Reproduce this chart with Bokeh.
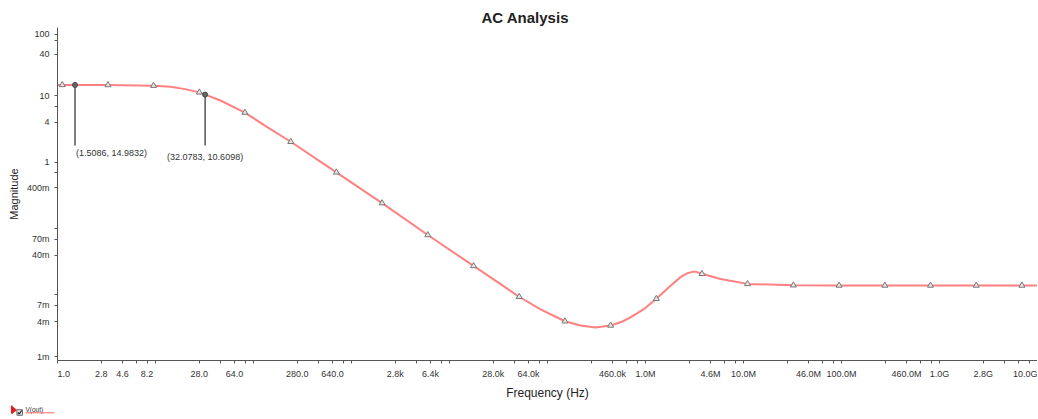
from bokeh.plotting import figure
from bokeh.models import FixedTicker, Range1d
from bokeh.layouts import column
from bokeh.embed import file_html
from bokeh.resources import INLINE
from bokeh.core.properties import value

# ---------------- data ----------------
trace_freq = [1.0, 1.5086, 3.27, 9.55, 14.3, 20.0, 28.0, 32.0783, 46.0, 81.8, 133.0,
              240.0, 701.0, 2053.0, 6010.0, 17600.0, 51400.0, 84000.0, 150600.0,
              217000.0, 309000.0, 440700.0, 574000.0, 703000.0, 960000.0, 1290000.0,
              1800000.0, 2280000.0, 2650000.0, 3000000.0, 3300000.0, 3770000.0,
              5830000.0, 11000000.0, 32300000.0, 94600000.0, 1e10]
trace_mag = [15.0, 14.9832, 14.95, 14.6, 14.0, 12.9, 11.5, 10.6098, 8.6, 5.6, 3.45,
             1.98, 0.665, 0.222, 0.0713, 0.0237, 0.0079, 0.0051, 0.0033,
             0.00284, 0.00264, 0.00284, 0.003245, 0.00378, 0.00508, 0.00735,
             0.0117, 0.0159, 0.0182, 0.0192, 0.0192, 0.0179,
             0.0149, 0.0125, 0.0119, 0.0118, 0.0118]

marker_freq = [1.117, 3.27, 9.55, 28.0, 81.8, 240.0, 701.0, 2053.0, 6010.0, 17600.0,
               51400.0, 150600.0, 440700.0, 1290000.0, 3770000.0, 11000000.0,
               32300000.0, 94600000.0, 276800000.0, 809000000.0, 2370000000.0,
               6930000000.0]
marker_mag = [15.0, 14.95, 14.6, 11.5, 5.6, 1.98, 0.665, 0.222, 0.0713, 0.0237,
              0.0079, 0.0033, 0.00284, 0.00735, 0.0179, 0.0125, 0.0119, 0.0118,
              0.0118, 0.0118, 0.0118, 0.0118]

cursor_freq = [1.5086, 32.0783]
cursor_mag = [14.9832, 10.6098]
cursor_text = ["(1.5086, 14.9832)", "(32.0783, 10.6098)"]

x_label_values = [1.0, 2.8, 4.6, 8.2, 28.0, 64.0, 280.0, 640.0, 2800.0, 6400.0, 28000.0,
                  64000.0, 460000.0, 1000000.0, 4600000.0, 10000000.0, 46000000.0,
                  100000000.0, 460000000.0, 1000000000.0, 2800000000.0, 10000000000.0]
x_label_texts = ["1.0", "2.8", "4.6", "8.2", "28.0", "64.0", "280.0", "640.0", "2.8k",
                 "6.4k", "28.0k", "64.0k", "460.0k", "1.0M", "4.6M", "10.0M", "46.0M",
                 "100.0M", "460.0M", "1.0G", "2.8G", "10.0G"]
x_mantissas = [1.0, 2.8, 4.6, 6.4, 8.2]

# y tick labels and where the reference draws them (pixel rows of the picture)
y_tick_labels = ["100", "", "40", "10", "", "4", "1", "", "400m", "", "70m", "40m",
                 "", "7m", "4m", "1m"]
y_tick_rows = [34.0, 40.0, 54.3, 96.0, 106.7, 122.7, 163.3, 173.3, 189.0, 230.0,
               241.5, 257.5, 297.0, 308.0, 325.0, 360.0]

# ---------------- pixel helpers (positions only) ----------------
def ypix(py):
    return 10 ** ((162.0 - py) / 65.4)

FONT = "Liberation Sans"
TXT = "#333333"
NB = "\u00a0"

p = figure(width=1037, height=402, x_axis_type="log", y_axis_type="log",
           x_range=Range1d(1.0, 1e10), y_range=Range1d(ypix(364), ypix(27)),
           output_backend="svg", toolbar_location=None,
           min_border_left=57, min_border_right=0, min_border_top=27,
           min_border_bottom=38, background_fill_color="white",
           border_fill_color="white")
p.outline_line_color = None
p.grid.visible = False

# title
p.title.text = "AC Analysis"
p.title.align = "left"
p.title.offset = 424
p.title.standoff = 3
p.title.text_font = FONT
p.title.text_font_size = "15px"
p.title.text_font_style = "bold"
p.title.text_color = "#222222"

# x ticks
x_ticks = []
for n in range(10):
    for m in x_mantissas:
        x_ticks.append(round(m * 10 ** n, 6))
x_ticks.append(1e10)
x_ticks = sorted(set(x_ticks))
x_over = {t: "" for t in x_ticks}
for v, t in zip(x_label_values, x_label_texts):
    x_over[round(v, 6)] = t
x_over[1.0] = NB * 5 + "1.0"   # first label sits right of the axis start

# y ticks
y_ticks = [ypix(r) for r in y_tick_rows]
y_over = {t: lab for t, lab in zip(y_ticks, y_tick_labels)}

p.xaxis.ticker = FixedTicker(ticks=x_ticks, minor_ticks=[])
p.xaxis.major_label_overrides = x_over
p.yaxis.ticker = FixedTicker(ticks=y_ticks, minor_ticks=[])
p.yaxis.major_label_overrides = y_over

for ax in (p.xaxis, p.yaxis):
    ax.axis_line_color = "#555555"
    ax.axis_line_width = 1
    ax.major_tick_line_color = "#555555"
    ax.major_tick_out = 3
    ax.major_tick_in = 0
    ax.minor_tick_out = 0
    ax.minor_tick_in = 0
    ax.major_label_text_font = FONT
    ax.major_label_text_font_size = "9px"
    ax.major_label_text_color = TXT
    ax.major_label_standoff = 5
    ax.axis_label_text_font = FONT
    ax.axis_label_text_font_style = "normal"
    ax.axis_label_text_color = "#222222"
    ax.axis_label_standoff = 4

p.xaxis.axis_label = "Frequency (Hz)"
p.xaxis.axis_label_text_font_size = "12px"
p.yaxis.axis_label = "Magnitude"
p.yaxis.axis_label_text_font_size = "11px"

# curve and markers
p.line(trace_freq, trace_mag, line_color="#ff8080", line_width=2)
p.scatter(marker_freq, marker_mag, marker="triangle", size=6,
          fill_color="#e6e6e6", line_color="#777777", line_width=1)

# cursors
cur_bottom = ypix(146.5)
p.segment(x0=cursor_freq, y0=cursor_mag, x1=cursor_freq, y1=[cur_bottom, cur_bottom],
          line_color="#555555", line_width=1.5)
p.scatter(cursor_freq, cursor_mag, marker="circle", size=5,
          fill_color="#666666", line_color="#444444")
p.text(x=[cursor_freq[0]], y=[ypix(148.5)], text=[cursor_text[0]],
       text_font=value(FONT), text_font_size="9px", text_color=TXT,
       text_align="left", text_baseline="top", x_offset=1)
p.text(x=[cursor_freq[1]], y=[ypix(152.5)], text=[cursor_text[1]],
       text_font=value(FONT), text_font_size="9px", text_color=TXT,
       text_align="center", text_baseline="top")

# legend strip (coordinates: x = page x, y = page y - 402)
leg = figure(width=60, height=15, x_range=Range1d(0, 60), y_range=Range1d(15, 0),
             output_backend="svg", toolbar_location=None, min_border=0,
             x_axis_location=None, y_axis_location=None)
leg.outline_line_color = None
leg.grid.visible = False
for fig in (p, leg):
    try:
        fig.frame_align = False
    except Exception:
        pass
leg.segment(x0=[11.2], y0=[3.0], x1=[11.2], y1=[11.0], line_color="#e02020", line_width=1.5)
leg.patch([11.5, 16.0, 11.5], [4.0, 7.5, 11.0], fill_color="#e02020", line_color="#e02020")
leg.rect(x=[19.2], y=[10.0], width=5.5, height=5.5, fill_color="#eeeeee",
         line_color="#666666", line_width=1)
leg.line([17.4, 18.8, 21.2], [9.9, 11.5, 8.0], line_color="#222222", line_width=1.3)
leg.text(x=[25.0], y=[7.0], text=["V(out)"], text_font=value(FONT),
         text_font_size="6.5px", text_color="#333333", text_baseline="alphabetic")
leg.segment(x0=[25.0], y0=[10.3], x1=[54.0], y1=[10.3], line_color="#ff6666", line_width=1)

layout = column(p, leg, spacing=0)
open("out.html", "w").write(file_html(layout, INLINE))
